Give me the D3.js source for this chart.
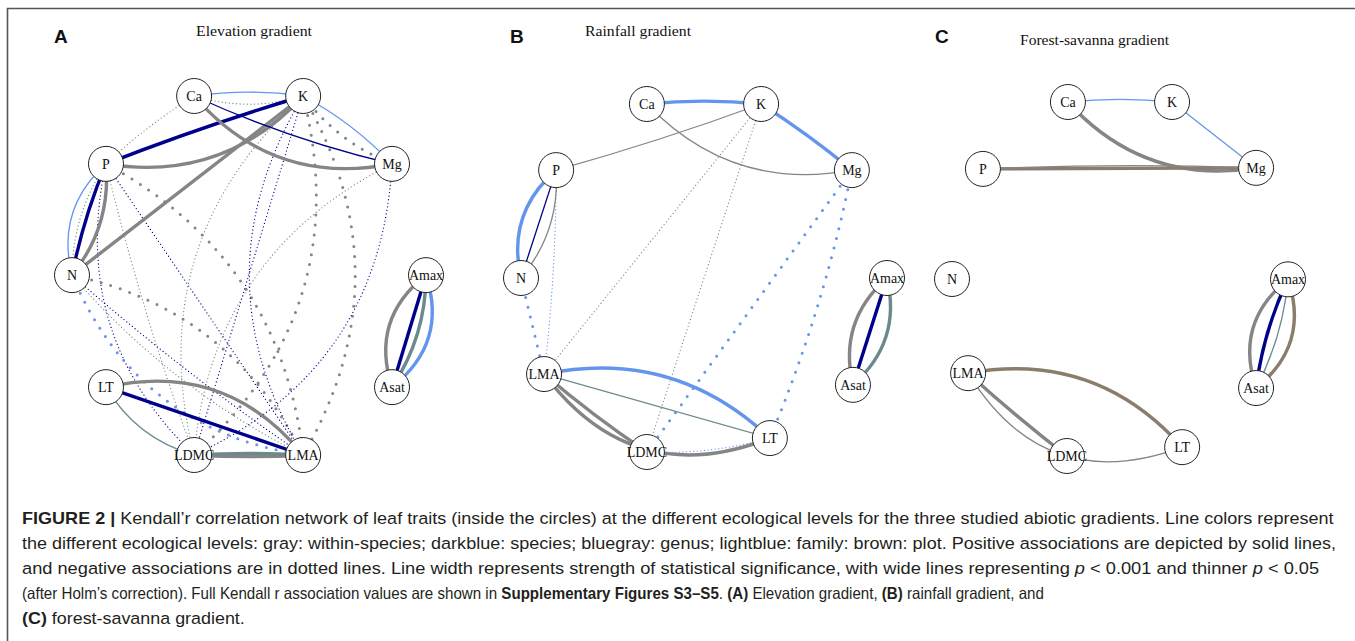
<!DOCTYPE html>
<html><head><meta charset="utf-8">
<script src="https://cdn.jsdelivr.net/npm/d3@7"></script>
<style>body{margin:0;background:#fff}svg{display:block}</style>
</head><body>
<svg id="fig" width="1355" height="641"></svg>
<script>
// ---------------- data ----------------
const traits = ["Ca","K","Mg","P","N","LT","LDMC","LMA","Amax","Asat"];
const levels = ["within-species","species","genus","family","plot"];
const levelColors = ["#858585","#00008B","#6B8A8E","#6495ED","#8B7D6B"];
const panelLetters = ["A","B","C"];
const panelTitles = ["Elevation gradient","Rainfall gradient","Forest-savanna gradient"];

// edges: [from, to, ecological level, sign (+1 positive / -1 negative), strong (1: p<0.001, 0: p<0.05)]
const edgesA = [
  ["P","K","species",1,1],["P","K","within-species",1,1],["N","K","within-species",1,1],
  ["Ca","Mg","within-species",1,1],["Ca","Mg","species",1,0],["Ca","K","family",1,0],
  ["Ca","K","genus",-1,0],["K","Mg","family",1,0],["K","Mg","genus",-1,1],
  ["K","LMA","within-species",-1,1],["K","LDMC","within-species",-1,1],["Ca","P","within-species",-1,0],
  ["P","N","family",1,0],["P","N","species",1,1],["P","N","within-species",1,1],["P","N","genus",-1,0],
  ["P","LMA","within-species",-1,1],["P","LMA","species",-1,0],["P","LDMC","within-species",-1,0],
  ["P","LDMC","species",-1,0],["N","LMA","family",-1,1],["N","LMA","species",-1,0],
  ["N","LMA","within-species",-1,1],["N","LMA","genus",-1,0],["K","LDMC","genus",-1,0],
  ["K","LDMC","species",-1,0],["K","LMA","species",-1,0],["Mg","LDMC","within-species",-1,0],
  ["Mg","LDMC","species",-1,0],["LT","LMA","species",1,1],["LT","LMA","within-species",1,1],
  ["LT","LDMC","genus",1,0],["LDMC","LMA","within-species",1,1],["LDMC","LMA","genus",1,1],
  ["Amax","Asat","within-species",1,1],["Amax","Asat","species",1,1],["Amax","Asat","genus",1,1],
  ["Amax","Asat","family",1,1]
];
const edgesB = [
  ["Ca","K","family",1,1],["K","Mg","family",1,1],["P","K","within-species",1,0],
  ["Ca","Mg","within-species",1,0],["P","N","family",1,1],["P","N","species",1,0],
  ["P","N","within-species",1,0],["P","LMA","family",-1,0],["N","LMA","family",-1,1],
  ["K","LMA","within-species",-1,0],["K","LDMC","within-species",-1,0],["Mg","LDMC","family",-1,1],
  ["Mg","LT","family",-1,1],["LMA","LT","family",1,1],["LMA","LT","genus",1,0],
  ["LMA","LDMC","within-species",1,1],["LMA","LT","within-species",1,1],["LDMC","LT","family",-1,0],
  ["Amax","Asat","within-species",1,1],["Amax","Asat","species",1,1],["Amax","Asat","genus",1,1]
];
const edgesC = [
  ["Ca","K","family",1,0],["K","Mg","family",1,0],["Ca","Mg","within-species",1,1],
  ["P","Mg","plot",1,1],["P","Mg","within-species",1,0],["LMA","LDMC","within-species",1,1],
  ["LMA","LT","within-species",1,0],["LMA","LT","plot",1,1],
  ["Amax","Asat","within-species",1,1],["Amax","Asat","species",1,1],["Amax","Asat","genus",1,0],
  ["Amax","Asat","plot",1,1]
];

// ---------------- layout / style ----------------
// edge curvature (fraction of edge length), parallel to the edge lists
const bendA = [-0.02,0.27,0,0.29,0.05,-0.07,0.15,-0.08,0.14,-0.29,-0.30,0.05,0.3,0.05,-0.2,0.15,
  -0.26,0,0.03,0.28,0.28,0.03,-0.24,0.1,0.3,0,0.3,0.28,-0.3,0,-0.31,0.2,0.03,-0.03,0.35,0,-0.15,-0.35];
const bendB = [-0.05,-0.03,0.02,0.27,0.3,0,-0.2,-0.03,0,0,0,0,-0.05,-0.26,0,0.03,0.38,0.08,0.3,0,-0.3];
const bendC = [-0.05,0,0.27,0,-0.02,0.02,0.41,-0.28,0.35,0.08,-0.1,-0.35];

// node layouts in unit coordinates, one per panel (order = traits)
const layoutA = [[0.345,0],[0.653,0],[0.904,0.189],[0.096,0.189],[0,0.499],[0.096,0.811],[0.345,1],[0.653,1],[1,0.499],[0.904,0.811]];
const layoutB = [[0.344,0],[0.656,0],[0.904,0.19],[0.096,0.19],[0,0.5],[0.68,0.96],[0.344,1],[0.063,0.776],[1,0.5],[0.907,0.807]];
const layoutC = [[0.345,0],[0.655,0],[0.905,0.186],[0.092,0.189],[0,0.5],[0.685,0.975],[0.342,1],[0.048,0.766],[1,0.501],[0.905,0.808]];

const panels = [
  {edges: edgesA, bend: bendA, layout: layoutA, x:[72,426], y:[96,455], letterX:54, titleX:196, titleY:36, titleW:116},
  {edges: edgesB, bend: bendB, layout: layoutB, x:[521,887], y:[104,452], letterX:510, titleX:585, titleY:36, titleW:106},
  {edges: edgesC, bend: bendC, layout: layoutC, x:[952,1288], y:[102,456], letterX:935, titleX:1020, titleY:45, titleW:149}
];

const svg = d3.select("#fig");
const color = d3.scaleOrdinal().domain(levels).range(levelColors);
const solidWidth = d3.scaleOrdinal().domain([0,1]).range([1.3,3.4]);
const dotWidth = d3.scaleOrdinal().domain([0,1]).range([1.3,3.0]);
const dotDash = d3.scaleOrdinal().domain([0,1]).range(["0 3.6","0 10"]);
const R = 17.5;

// frame
svg.append("path").attr("d", d3.line()([[7.5,641],[7.5,8.5],[1355,8.5]]))
  .attr("fill","none").attr("stroke","#555").attr("stroke-width",1.6);

function edgePath(p0, p1, bend){
  const dx = p1[0]-p0[0], dy = p1[1]-p0[1], L = Math.hypot(dx,dy);
  const nx = -dy/L, ny = dx/L;
  const cx = (p0[0]+p1[0])/2 + bend*L*nx, cy = (p0[1]+p1[1])/2 + bend*L*ny;
  const p = d3.path(); p.moveTo(p0[0],p0[1]); p.quadraticCurveTo(cx,cy,p1[0],p1[1]);
  return p.toString();
}

panels.forEach((pn, i) => {
  const sx = d3.scaleLinear().domain([0,1]).range(pn.x);
  const sy = d3.scaleLinear().domain([0,1]).range(pn.y);
  const pos = {};
  traits.forEach((t,k) => pos[t] = [sx(pn.layout[k][0]), sy(pn.layout[k][1])]);
  const g = svg.append("g");

  g.append("text").attr("x", pn.letterX).attr("y", 43)
    .attr("font-family","Liberation Sans, Arial, sans-serif").attr("font-weight","bold")
    .attr("font-size",19).attr("fill","#111").text(panelLetters[i]);
  g.append("text").attr("x", pn.titleX).attr("y", pn.titleY)
    .attr("font-family","Liberation Serif, Times New Roman, serif").attr("font-size",14)
    .attr("textLength", pn.titleW).attr("lengthAdjust","spacingAndGlyphs")
    .attr("fill","#111").text(panelTitles[i]);

  const ed = pn.edges.map((e,k) => ({from:e[0], to:e[1], level:e[2], sign:e[3], strong:e[4], bend:pn.bend[k]}));
  const ordered = ed.filter(e => e.sign < 0).concat(ed.filter(e => e.sign > 0));
  g.append("g").selectAll("path").data(ordered).join("path")
    .attr("d", e => edgePath(pos[e.from], pos[e.to], e.bend))
    .attr("fill","none")
    .attr("stroke", e => color(e.level))
    .attr("stroke-width", e => e.sign > 0 ? solidWidth(e.strong) : dotWidth(e.strong))
    .attr("stroke-dasharray", e => e.sign > 0 ? null : dotDash(e.strong))
    .attr("stroke-linecap", e => e.sign > 0 ? "butt" : "round");

  const nodes = g.append("g").selectAll("g").data(traits).join("g")
    .attr("transform", t => `translate(${pos[t][0]},${pos[t][1]})`);
  nodes.append("circle").attr("r", R).attr("fill","#fff").attr("stroke","#222").attr("stroke-width",1);
  nodes.append("text").attr("text-anchor","middle").attr("dy","0.35em")
    .attr("font-family","Liberation Serif, Times New Roman, serif").attr("font-size",14)
    .attr("fill","#111").text(t => t);
});

// caption
const captionLines = [
  [["b","FIGURE 2 | "],["n","Kendall’r correlation network of leaf traits (inside the circles) at the different ecological levels for the three studied abiotic gradients. Line colors represent"]],
  [["n","the different ecological levels: gray: within-species; darkblue: species; bluegray: genus; lightblue: family: brown: plot. Positive associations are depicted by solid lines,"]],
  [["n","and negative associations are in dotted lines. Line width represents strength of statistical significance, with wide lines representing "],["i","p"],["n"," < 0.001 and thinner "],["i","p"],["n"," < 0.05"]],
  [["n","(after Holm’s correction). Full Kendall r association values are shown in "],["b","Supplementary Figures S3–S5"],["n",". "],["b","(A)"],["n"," Elevation gradient, "],["b","(B)"],["n"," rainfall gradient, and"]],
  [["b","(C)"],["n"," forest-savanna gradient."]]
];
const captionWidths = [1313,1315,1299,1023,223];
const capY = d3.scaleLinear().domain([0,4]).range([524,624]);
captionLines.forEach((parts, k) => {
  const g = svg.append("g");
  const t = g.append("text").attr("x",0).attr("y",0)
    .attr("font-family","Liberation Sans, Arial, sans-serif").attr("font-size",16.5)
    .attr("fill","#231f20").style("white-space","pre");
  parts.forEach(p => t.append("tspan")
    .attr("font-weight", p[0]==="b" ? "bold" : null)
    .attr("font-style", p[0]==="i" ? "italic" : null)
    .text(p[1]));
  const w = t.node().getComputedTextLength();
  g.attr("transform", `translate(22,${capY(k)}) scale(${captionWidths[k]/w},1)`);
});
</script>
</body></html>
